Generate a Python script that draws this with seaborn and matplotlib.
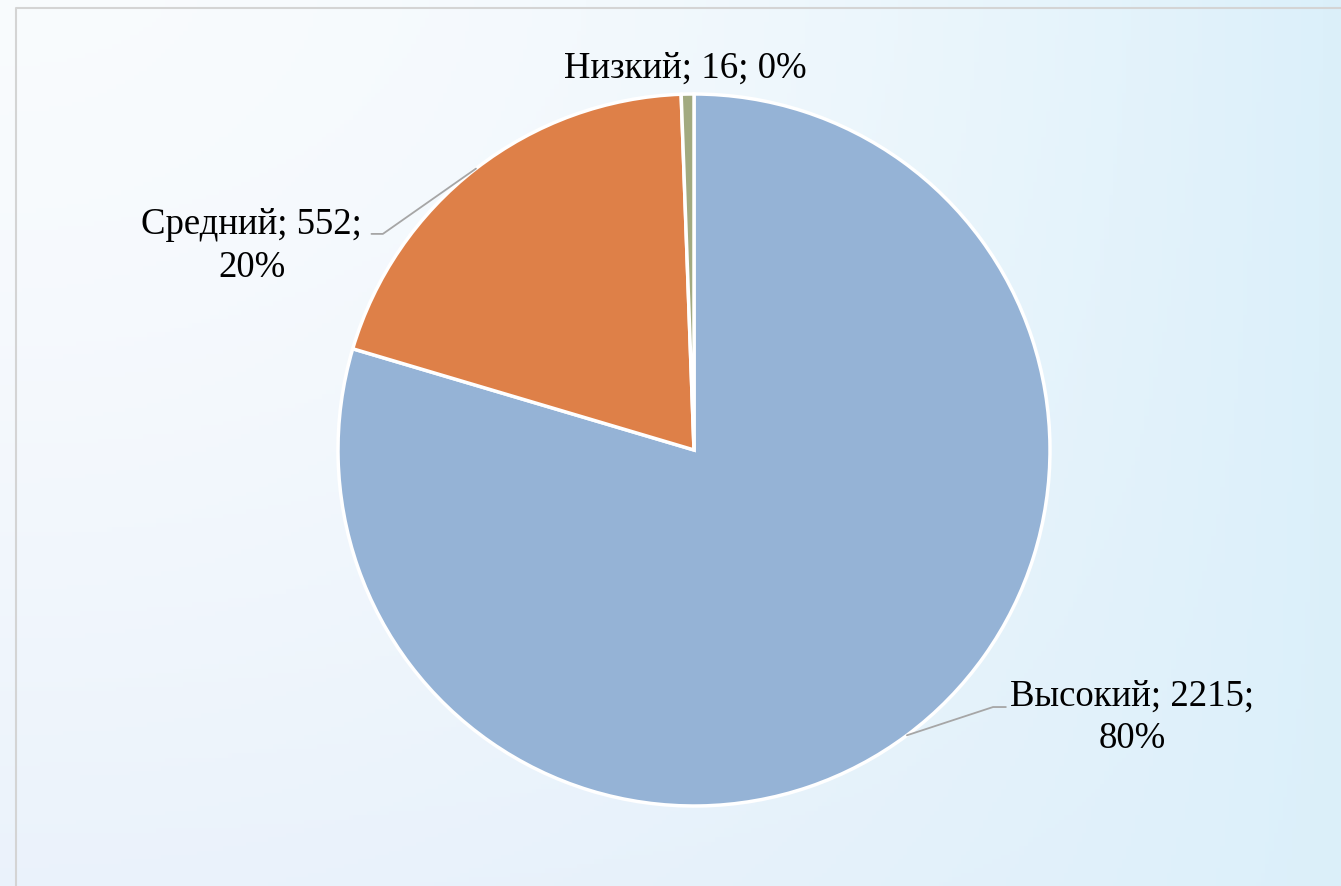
import numpy as np
import matplotlib
matplotlib.use('Agg')
import matplotlib.pyplot as plt
import seaborn as sns

# data
labels = ['Высокий', 'Средний', 'Низкий']
values = [2215, 552, 16]
percents = [80, 20, 0]
colors = ['#95B3D6', '#DE8048', '#A2AA80']

sns.set_style('white')
plt.rcParams['font.family'] = ['Liberation Serif', 'DejaVu Serif']

fig = plt.figure(figsize=(13.41, 8.86), dpi=100)

# soft blue background
bg = fig.add_axes([0, 0, 1, 1])
gx, gy = np.meshgrid(np.linspace(0, 1, 300), np.linspace(0, 1, 200))
top_left = np.array([0.975, 0.985, 0.995])
right = np.array([0.86, 0.94, 0.98])
bottom_left = np.array([0.92, 0.95, 0.985])
t = np.clip(gx ** 2.0, 0, 1)[..., None]
s = np.clip(gy ** 1.5, 0, 1)[..., None]
img = (1 - t) * ((1 - s) * top_left + s * bottom_left) + t * right
bg.imshow(img, extent=[0, 1, 0, 1], aspect='auto', origin='upper')
bg.set_xlim(0, 1)
bg.set_ylim(0, 1)
bg.axis('off')
W, H = 1341, 886
bg.plot([16 / W, 16 / W, 1], [0, 1 - 8 / H, 1 - 8 / H], color='#D4D4D4', lw=1.5)

# pie
cx, cy, r = 694, 450, 356
ax = fig.add_axes([(cx - r) / W, (H - cy - r) / H, 2 * r / W, 2 * r / H])
wedges, _ = ax.pie(values, colors=colors, startangle=90, counterclock=False,
                   wedgeprops=dict(edgecolor='white', linewidth=2.5))
ax.set_xlim(-1, 1)
ax.set_ylim(-1, 1)
ax.set_aspect('equal')
ax.axis('off')

# label position (data units) and elbow for leader line
label_pos = {'Высокий': (1.230, -0.752), 'Средний': (-1.242, 0.571), 'Низкий': (-0.025, 1.073)}
elbows = {'Высокий': ((0.840, -0.722), (0.876, -0.722)),
          'Средний': ((-0.874, 0.607), (-0.906, 0.607))}

for w, lab, val, pct in zip(wedges, labels, values, percents):
    if lab == 'Низкий':
        txt = f'{lab}; {val}; {pct}%'
    else:
        txt = f'{lab}; {val};\n{pct}%'
    x, y = label_pos[lab]
    ax.text(x, y, txt, ha='center', va='center', fontsize=26.5, color='black',
            linespacing=1.32, clip_on=False)
    if lab in elbows:
        mid = np.deg2rad((w.theta1 + w.theta2) / 2)
        (ex, ey), (fx, fy) = elbows[lab]
        ax.plot([np.cos(mid), ex, fx], [np.sin(mid), ey, fy], color='#A6A6A6',
                lw=1.3, clip_on=False)

fig.savefig('out.png', dpi=100)
